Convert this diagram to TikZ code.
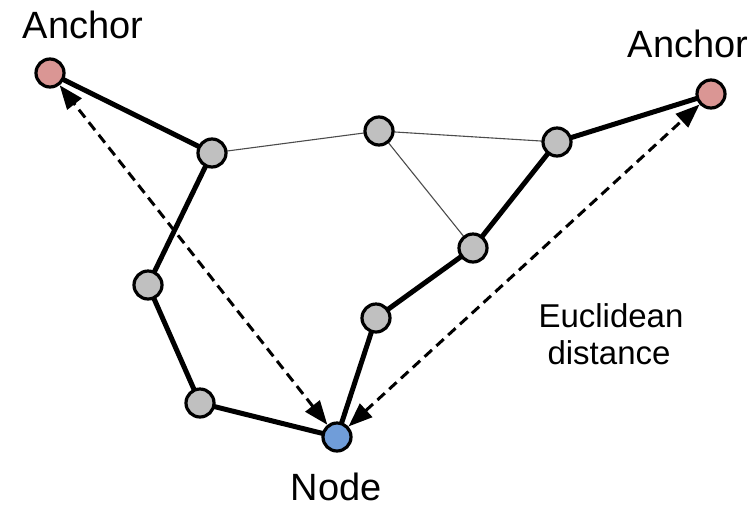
\documentclass[tikz,border=0pt]{standalone}
\usepackage{fontspec}
\setmainfont{Liberation Sans}
\usetikzlibrary{arrows.meta}
\definecolor{anchorred}{RGB}{218,150,148}
\definecolor{nodegray}{RGB}{192,192,192}
\definecolor{nodeblue}{RGB}{112,157,217}
\begin{document}
\begin{tikzpicture}[x=1pt,y=-1pt,
  vert/.style={circle,draw=black,line width=3.2pt,minimum size=28pt,inner sep=0pt,fill=nodegray},
  anch/.style={vert,fill=anchorred},
  target/.style={vert,fill=nodeblue},
  pathedge/.style={line width=5pt},
  otheredge/.style={line width=1.1pt,draw=black!70},
  eucl/.style={line width=3pt,dash pattern=on 10pt off 6pt,
    arrows={Triangle[length=24pt,width=18pt]-Triangle[length=24pt,width=18pt]}},
  lab/.style={font=\fontsize{38}{42}\selectfont,inner sep=0pt,anchor=base},
  lab2/.style={font=\fontsize{33}{37}\selectfont,inner sep=0pt,anchor=base}
]
\useasboundingbox (0,0) rectangle (751,507);
\coordinate (cal) at (50,73);
\coordinate (car) at (711,94);
\coordinate (ca) at (212,153);
\coordinate (cb) at (379,131);
\coordinate (cc) at (557,142);
\coordinate (cd) at (473,248);
\coordinate (ce) at (376,318);
\coordinate (cf) at (148,285);
\coordinate (cg) at (200,403);
\coordinate (cn) at (337,437);

% thin edges
\draw[otheredge] (ca) -- (cb) -- (cc);
\draw[otheredge] (cb) -- (cd);
% thick path edges
\draw[pathedge] (cal) -- (ca) -- (cf) -- (cg) -- (cn) -- (ce) -- (cd) -- (cc) -- (car);

\node[anch] (al) at (cal) {};
\node[anch] (ar) at (car) {};
\node[vert] (a) at (ca) {};
\node[vert] (b) at (cb) {};
\node[vert] (c) at (cc) {};
\node[vert] (d) at (cd) {};
\node[vert] (e) at (ce) {};
\node[vert] (f) at (cf) {};
\node[vert] (g) at (cg) {};
\node[target] (n) at (cn) {};

% euclidean distance arrows
\draw[eucl] (n) -- (al);
\draw[eucl] (n) -- (ar);

\node[lab] (tal) at (83,38) {Anchor};
\node[lab] (tar) at (688,57) {Anchor};
\node[lab] (tn) at (336,500) {Node};
\node[lab2] (te1) at (611,327) {Euclidean};
\node[lab2] (te2) at (609,364) {distance};
\end{tikzpicture}
\end{document}
